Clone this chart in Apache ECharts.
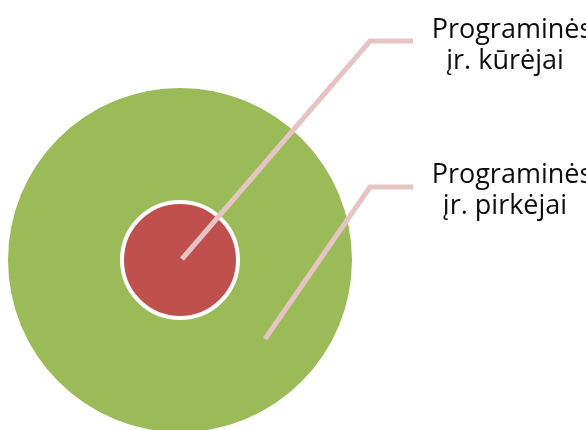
<!DOCTYPE html>
<html>
<head>
<meta charset="utf-8">
<script src="https://cdn.jsdelivr.net/npm/echarts@6/dist/echarts.min.js"></script>
<style>html,body{margin:0;padding:0;background:#fff}#c{width:586px;height:430px}</style>
</head>
<body>
<div id="c"></div>
<script>
// Data
const titles = ['Programinės', 'Programinės'];
const subtitles = ['įr. pirkėjai', 'įr. kūrėjai'];
const values = [1, 1];
const colors = ['#9bbb59', '#c0504d'];

const chart = echarts.init(document.getElementById('c'), null, {renderer: 'canvas'});
const CX = 180, CY = 260;
const LINE_COLOR = '#e6c4c4';
const labelStyle = {
  color: '#0d0d0d', fontFamily: 'Open Sans', fontSize: 27, lineHeight: 31, align: 'center',
  formatter: function (p) { return '{a|' + titles[p.seriesIndex] + '}\n{b|' + subtitles[p.seriesIndex] + '}'; },
  rich: {
    a: {fontFamily: 'Open Sans', fontSize: 27, lineHeight: 31, color: '#0d0d0d', padding: [0, 0, 0, 14]},
    b: {fontFamily: 'Open Sans', fontSize: 27, lineHeight: 31, color: '#0d0d0d'}
  }
};

function leader(points) {
  return {
    type: 'polyline', z: 100, silent: true,
    shape: {points: points},
    style: {stroke: LINE_COLOR, lineWidth: 5, fill: null, lineCap: 'butt', lineJoin: 'miter'}
  };
}

chart.setOption({
  backgroundColor: '#ffffff',
  animation: false,
  series: [
    {
      type: 'pie',
      center: [CX, CY],
      radius: [0, 172],
      silent: true,
      emphasis: {disabled: true},
      itemStyle: {color: colors[0], borderWidth: 0},
      label: Object.assign({show: true, position: 'outside'}, labelStyle),
      labelLine: {show: false},
      labelLayout: function () {
        return {x: 505, y: 191, align: 'center', verticalAlign: 'middle'};
      },
      data: [{name: titles[0] + ' ' + subtitles[0], value: values[0]}]
    },
    {
      type: 'pie',
      center: [CX, CY],
      radius: [0, 58],
      silent: true,
      emphasis: {disabled: true},
      itemStyle: {color: colors[1], borderColor: '#ffffff', borderWidth: 4},
      label: Object.assign({show: true, position: 'outside'}, labelStyle),
      labelLine: {show: false},
      labelLayout: function () {
        return {x: 505, y: 46, align: 'center', verticalAlign: 'middle'};
      },
      data: [{name: titles[1] + ' ' + subtitles[1], value: values[1]}]
    }
  ],
  graphic: [
    leader([[CX + 2, CY - 1], [370, 41], [413, 41]]),
    leader([[CX + 85, CY + 79], [370, 187], [413, 187]])
  ]
});
</script>
</body>
</html>
